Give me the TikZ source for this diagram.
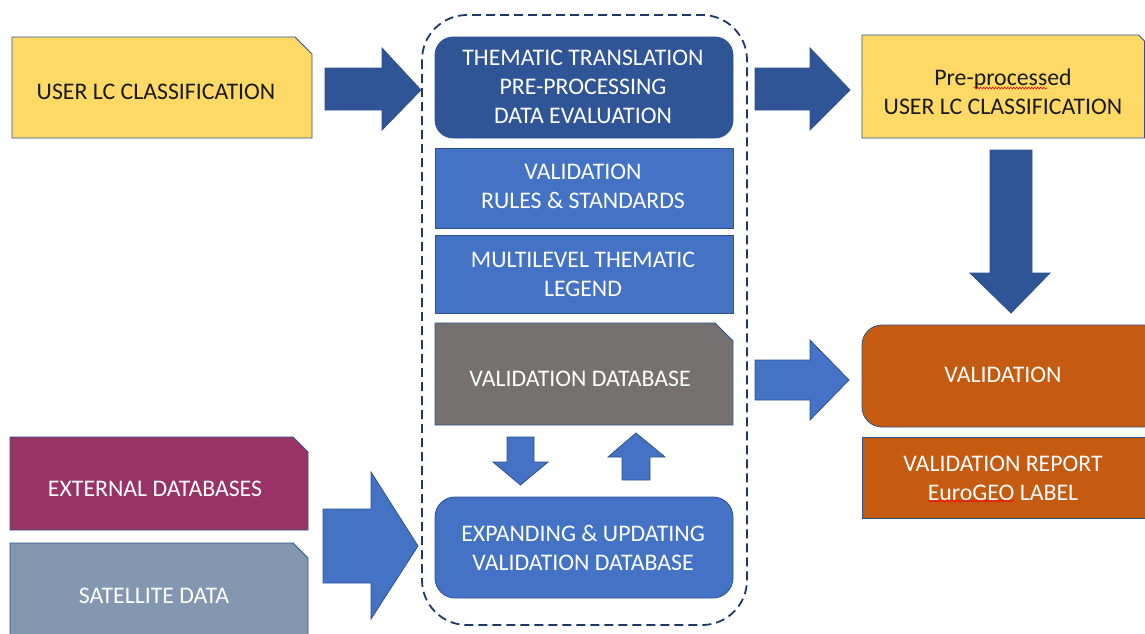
\documentclass[tikz,border=0pt]{standalone}
\usepackage{fontspec}
\setmainfont{Carlito}
\usetikzlibrary{decorations.pathmorphing}
\definecolor{cyellow}{HTML}{FFD966}
\definecolor{cdark}{HTML}{2F5597}
\definecolor{cmed}{HTML}{4472C4}
\definecolor{cgray}{HTML}{767171}
\definecolor{cmaroon}{HTML}{993366}
\definecolor{cslate}{HTML}{8497B0}
\definecolor{corange}{HTML}{C55A11}
\definecolor{cborder}{HTML}{2F528F}
\definecolor{cdash}{HTML}{203864}
\definecolor{ctext}{HTML}{1A1A1A}
\newcommand\lblfont{\fontsize{23.8}{29}\selectfont}
\tikzset{
  shapeline/.style={draw=cborder, line width=0.8pt},
  lbl/.style={align=center, inner sep=0pt, font=\lblfont},
  wlbl/.style={lbl, text=white},
  dlbl/.style={lbl, text=ctext},
  blockarrow/.style={shapeline, line join=miter},
  spell/.style={draw=red, line width=0.6pt, decorate, decoration={snake, amplitude=0.9pt, segment length=3pt}},
}
% snipped box: x1 y1 x2 y2 snip fill
\newcommand\snipbox[6]{%
  \filldraw[shapeline, fill=#6] (#1,#2) -- ({#3-#5},#2) -- (#3,{#2+#5}) -- (#3,#4) -- (#1,#4) -- cycle;}
% right block arrow: x1 xb xt yh1 ys1 ymid ys2 yh2 fill
\newcommand\rarrow[9]{%
  \filldraw[blockarrow, fill=#9] (#1,#5) -- (#2,#5) -- (#2,#4) -- (#3,#6) -- (#2,#8) -- (#2,#7) -- (#1,#7) -- cycle;}
\newlength\wLineA
\newlength\wPreA
\newlength\wPreB
\newlength\wLineB
\newlength\wEuro
\begin{document}
\settowidth\wLineA{\lblfont Pre-processed}%
\settowidth\wPreA{\lblfont Pre-}%
\settowidth\wPreB{\lblfont Pre-process}%
\settowidth\wLineB{\lblfont EuroGEO LABEL}%
\settowidth\wEuro{\lblfont EuroGEO}%
\begin{tikzpicture}[x=1pt,y=-1pt]
\clip (0,0) rectangle (1145,633);
\fill[white] (0,0) rectangle (1145,633);

% dashed container
\draw[cdash, line width=1.8pt, dash pattern=on 9pt off 5pt, rounded corners=45pt] (422,15) rectangle (747,625);

% left boxes
\snipbox{12}{37}{312}{138}{17}{cyellow}
\node[dlbl] (user) at (156,92) {USER LC CLASSIFICATION};
\snipbox{10}{437}{308}{530}{15}{cmaroon}
\node[wlbl] (ext) at (155,489) {EXTERNAL DATABASES};
\snipbox{10}{543}{308}{660}{15}{cslate}
\node[wlbl] (sat) at (154,596) {SATELLITE DATA};

% central boxes
\filldraw[shapeline, fill=cdark, rounded corners=18pt] (435,37) rectangle (733,138);
\node[wlbl] (theme) at (583,87) {THEMATIC TRANSLATION\\PRE-PROCESSING\\DATA EVALUATION};
\filldraw[shapeline, fill=cmed] (435,148) rectangle (733,228);
\node[wlbl] (rules) at (583,186.5) {VALIDATION\\RULES \& STANDARDS};
\filldraw[shapeline, fill=cmed] (435,235) rectangle (733,313);
\node[wlbl] (legend) at (583,274) {MULTILEVEL THEMATIC\\LEGEND};
\snipbox{435}{323}{733}{425}{18}{cgray}
\node[wlbl] (vdb) at (580,379) {VALIDATION DATABASE};
\filldraw[shapeline, fill=cmed, rounded corners=20pt] (435,497) rectangle (733,598);
\node[wlbl] (expand) at (583,547.5) {EXPANDING \& UPDATING\\VALIDATION DATABASE};

% right boxes
\snipbox{862}{35}{1144.5}{138}{6}{cyellow}
\node[dlbl] (pre) at (1003,91.5) {Pre-processed\\USER LC CLASSIFICATION};
\filldraw[shapeline, fill=corange, rounded corners=20pt] (862,325) rectangle (1175,427);
\node[wlbl] (val) at (1003,375) {VALIDATION};
\filldraw[shapeline, fill=corange] (862,437) rectangle (1160,518);
\node[wlbl] (report) at (1003,478) {VALIDATION REPORT\\EuroGEO LABEL};

% spell-check underlines
\pgfmathsetmacro\xa{1003-0.5*\wLineA+\wPreA}
\pgfmathsetmacro\xb{1003-0.5*\wLineA+\wPreB}
\pgfmathsetmacro\xc{1003-0.5*\wLineB}
\pgfmathsetmacro\xd{1003-0.5*\wLineB+\wEuro}
\coordinate (wa1) at (\xa,88);
\coordinate (wa2) at (\xb,88);
\coordinate (wb1) at (\xc,501);
\coordinate (wb2) at (\xd,501);
\draw[spell] (wa1) -- (wa2);
\draw[spell] (wb1) -- (wb2);

% block arrows
\rarrow{325}{382}{421}{48}{68}{90}{110}{130}{cdark}
\rarrow{755}{810}{850}{48}{68}{90}{110}{130}{cdark}
\rarrow{755}{810}{849}{340}{360}{380}{400}{420}{cmed}
\rarrow{323}{371}{418}{472}{509}{546}{583}{619}{cmed}
% big down arrow
\filldraw[blockarrow, fill=cdark] (990,150) -- (1032,150) -- (1032,273) -- (1050,273) -- (1011,313) -- (970,273) -- (990,273) -- cycle;
% small down arrow
\filldraw[blockarrow, fill=cmed] (507,437) -- (534,437) -- (534,462) -- (548,462) -- (520.5,485) -- (493,462) -- (507,462) -- cycle;
% small up arrow
\filldraw[blockarrow, fill=cmed] (622,480) -- (650,480) -- (650,457) -- (665,457) -- (636,433) -- (608,457) -- (622,457) -- cycle;
\end{tikzpicture}
\end{document}
